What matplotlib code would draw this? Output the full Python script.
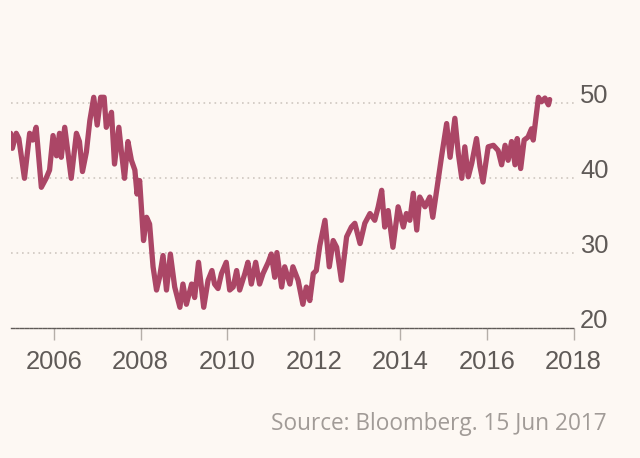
import matplotlib
matplotlib.use("Agg")
import matplotlib.pyplot as plt

# decimal-year dates and values
dates = [
    2005.00, 2005.04, 2005.13, 2005.19, 2005.32, 2005.44, 2005.51, 2005.59, 2005.71, 2005.82,
    2005.90, 2005.98, 2006.06, 2006.13, 2006.17, 2006.25, 2006.40, 2006.52, 2006.59, 2006.66,
    2006.75, 2006.83, 2006.92, 2007.00, 2007.08, 2007.16, 2007.21, 2007.33, 2007.40, 2007.50,
    2007.56, 2007.63, 2007.71, 2007.79, 2007.87, 2007.92, 2007.98, 2008.07, 2008.14, 2008.21,
    2008.29, 2008.37, 2008.44, 2008.52, 2008.60, 2008.69, 2008.79, 2008.91, 2008.98, 2009.06,
    2009.18, 2009.25, 2009.34, 2009.46, 2009.56, 2009.65, 2009.71, 2009.79, 2009.87, 2009.98,
    2010.06, 2010.14, 2010.22, 2010.29, 2010.41, 2010.48, 2010.56, 2010.66, 2010.75, 2010.83,
    2010.95, 2011.02, 2011.10, 2011.15, 2011.26, 2011.33, 2011.45, 2011.52, 2011.64, 2011.75,
    2011.83, 2011.91, 2011.99, 2012.06, 2012.14, 2012.26, 2012.36, 2012.45, 2012.53, 2012.64,
    2012.76, 2012.87, 2012.95, 2013.07, 2013.18, 2013.30, 2013.41, 2013.49, 2013.57, 2013.64,
    2013.72, 2013.83, 2013.95, 2014.07, 2014.14, 2014.22, 2014.30, 2014.38, 2014.45, 2014.57,
    2014.68, 2014.75, 2014.84, 2014.95, 2015.07, 2015.15, 2015.26, 2015.34, 2015.42, 2015.49,
    2015.57, 2015.65, 2015.76, 2015.84, 2015.91, 2016.03, 2016.15, 2016.26, 2016.34, 2016.42,
    2016.49, 2016.57, 2016.65, 2016.70, 2016.78, 2016.86, 2016.95, 2017.03, 2017.07, 2017.19,
    2017.26, 2017.34, 2017.42, 2017.45,
]
values = [
    46.0, 44.0, 46.0, 45.3, 40.0, 46.0, 45.1, 46.8, 38.8, 40.0,
    41.1, 45.7, 43.0, 46.0, 42.8, 46.8, 40.0, 46.0, 44.9, 40.9,
    43.5, 47.7, 50.8, 47.1, 50.8, 50.8, 46.8, 48.8, 41.9, 46.8,
    43.5, 40.0, 44.9, 42.4, 41.1, 37.9, 39.7, 31.7, 34.8, 33.9,
    28.2, 25.1, 26.8, 29.7, 25.1, 29.9, 25.5, 22.8, 25.9, 23.2,
    25.9, 24.1, 28.8, 22.8, 26.4, 27.7, 25.9, 25.3, 27.3, 28.8,
    25.1, 25.5, 27.7, 25.1, 27.3, 28.8, 25.9, 28.8, 25.9, 27.3,
    28.8, 29.9, 26.8, 30.1, 25.5, 28.2, 25.9, 28.2, 26.4, 23.2,
    25.5, 23.7, 27.3, 27.7, 31.0, 34.4, 28.2, 31.7, 30.8, 26.4,
    32.2, 33.5, 34.0, 31.3, 34.0, 35.3, 34.4, 36.2, 38.4, 33.5,
    35.7, 30.8, 36.2, 33.5, 35.3, 34.4, 38.0, 33.1, 37.5, 36.2,
    37.5, 34.8, 38.4, 42.8, 47.3, 42.8, 48.0, 43.3, 40.0, 44.2,
    40.2, 42.0, 45.3, 41.6, 39.5, 44.2, 44.4, 43.7, 41.8, 44.4,
    42.4, 44.9, 41.8, 45.3, 41.3, 45.1, 45.5, 46.6, 45.1, 50.8,
    50.2, 50.7, 49.8, 50.5,
]
x_ticks = [2006, 2008, 2010, 2012, 2014, 2016, 2018]
y_ticks = [20, 30, 40, 50]
source_text = "Source: Bloomberg. 15 Jun 2017"

BG = "#fdf8f3"
LINE = "#ab4666"
TXT = "#5f5a57"

fig = plt.figure(figsize=(6.4, 4.58), dpi=100, facecolor=BG)
ax = fig.add_axes([10.6 / 640, 0.2832, (573.5 - 10.6) / 640, 0.524])
ax.set_facecolor(BG)

ax.plot(dates, values, color=LINE, lw=3.8, solid_joinstyle="round",
        solid_capstyle="round", zorder=3)

ax.set_xlim(2005.0, 2018.0)
ax.set_ylim(20, 52)

for s in ["top", "left", "right"]:
    ax.spines[s].set_visible(False)
ax.spines["bottom"].set_color("#5f5a57")
ax.spines["bottom"].set_linewidth(1.0)
ax.spines["bottom"].set_linestyle((0, (2.2, 1.1)))

for yv in y_ticks[1:]:
    ax.axhline(yv, color="#cfc7c0", lw=1.2, dashes=(1, 2.3), zorder=1)

ax.set_xticks(x_ticks)
ax.set_xticklabels([str(t) for t in x_ticks])
ax.tick_params(axis="x", direction="out", length=8.6, width=1, color="#b5aea8",
               pad=7.3, labelsize=18.4, labelcolor=TXT)

ax.yaxis.tick_right()
ax.set_yticks(y_ticks)
ax.set_yticklabels([str(t) for t in y_ticks])
ax.tick_params(axis="y", length=0, pad=4.7, labelsize=18.4, labelcolor=TXT)
for lab in ax.get_yticklabels():
    lab.set_verticalalignment("baseline")
    lab.set_fontfamily("Liberation Sans")
for lab in ax.get_xticklabels():
    lab.set_fontfamily("Liberation Sans")

fig.text(607 / 640, 1 - 430 / 458, source_text, ha="right", va="baseline",
         fontsize=16.3, color="#a19b97", family="Open Sans")

fig.savefig("out.png", dpi=100, facecolor=BG)
